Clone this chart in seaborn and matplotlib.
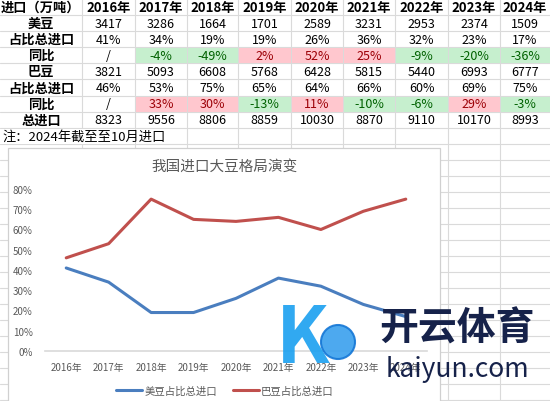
import matplotlib
matplotlib.use("Agg")
import matplotlib.pyplot as plt
import seaborn as sns
import pandas as pd
from matplotlib.patches import Rectangle, Circle

# ---------------- data ----------------
years = ["2016年", "2017年", "2018年", "2019年", "2020年", "2021年", "2022年", "2023年", "2024年"]
us_vol = [3417, 3286, 1664, 1701, 2589, 3231, 2953, 2374, 1509]
us_share = [41, 34, 19, 19, 26, 36, 32, 23, 17]
us_yoy = ["/", "-4%", "-49%", "2%", "52%", "25%", "-9%", "-20%", "-36%"]
br_vol = [3821, 5093, 6608, 5768, 6428, 5815, 5440, 6993, 6777]
br_share = [46, 53, 75, 65, 64, 66, 60, 69, 75]
br_yoy = ["/", "33%", "30%", "-13%", "11%", "-10%", "-6%", "29%", "-3%"]
total = [8323, 9556, 8806, 8859, 10030, 8870, 9110, 10170, 8993]
row_labels = ["美豆", "占比总进口", "同比", "巴豆", "占比总进口", "同比", "总进口"]
header_label = "进口（万吨）"
note = "注：2024年截至至10月进口"
chart_title = "我国进口大豆格局演变"
series_names = ["美豆占比总进口", "巴豆占比总进口"]
y_ticks = [0, 10, 20, 30, 40, 50, 60, 70, 80]

sns.set_theme(style="white")
plt.rcParams["font.family"] = ["Noto Sans CJK SC", "DejaVu Sans"]

W, H = 550, 402
fig = plt.figure(figsize=(5.5, 4.02), dpi=100)
bg = fig.add_axes([0, 0, 1, 1])
bg.set_xlim(0, W)
bg.set_ylim(H, 0)
bg.axis("off")

grid_c = "#dadada"
col_x = [0, 82, 135, 187, 238, 291, 343, 395, 448, 500, 550]
row_y = [0, 16, 32, 48, 64, 80, 97, 113, 129, 145]

# spreadsheet grid lines (whole page)
for y in range(16, 410, 16):
    bg.plot([0, W], [y + (1 if y > 90 else 0)] * 2, color=grid_c, lw=0.8, zorder=0)
for x in col_x[1:-1]:
    bg.plot([x, x], [0, H], color=grid_c, lw=0.8, zorder=0)

green_fill, green_txt = "#c6efce", "#006100"
red_fill, red_txt = "#ffc7ce", "#9c0006"

# header row
bg.text(1, 8, header_label, ha="left", va="center", fontsize=9.5, fontweight="bold", color="black")
for i, yr in enumerate(years):
    cx = (col_x[i + 1] + col_x[i + 2]) / 2
    bg.text(cx, 8, yr, ha="center", va="center", fontsize=9.5, fontweight="bold", color="black")

rows = [
    [str(v) for v in us_vol],
    [f"{v}%" for v in us_share],
    us_yoy,
    [str(v) for v in br_vol],
    [f"{v}%" for v in br_share],
    br_yoy,
    [str(v) for v in total],
]
for r, (lab, vals) in enumerate(zip(row_labels, rows)):
    y0, y1 = row_y[r + 1], row_y[r + 2]
    cy = (y0 + y1) / 2
    bg.text(41, cy, lab, ha="center", va="center", fontsize=9.5, fontweight="bold", color="black")
    for i, v in enumerate(vals):
        x0, x1 = col_x[i + 1], col_x[i + 2]
        color = "black"
        if r in (2, 5) and v != "/":
            fill, color = (green_fill, green_txt) if v.startswith("-") else (red_fill, red_txt)
            bg.add_patch(Rectangle((x0 + 0.5, y0 + 0.5), x1 - x0 - 1, y1 - y0 - 1,
                                   facecolor=fill, edgecolor="none", zorder=1))
        bg.text((x0 + x1) / 2, cy, v, ha="center", va="center", fontsize=9, color=color, zorder=2)

bg.add_patch(Rectangle((0, 129.5), 135, 15, facecolor="white", edgecolor="none", zorder=1))
bg.text(2, 137, note, ha="left", va="center", fontsize=9.5, color="black", zorder=2)

# chart box
bg.add_patch(Rectangle((8, 149), 432, 260, facecolor="white", edgecolor="#d0d0d0", lw=0.9, zorder=3))
bg.text(225, 167, chart_title, ha="center", va="center", fontsize=10.5, color="#595959", zorder=4)

# ---------------- chart ----------------
left, right = 45, 427
top, bottom = 190, 352
ax = fig.add_axes([left / W, (H - bottom) / H, (right - left) / W, (bottom - top) / H])
ax.set_facecolor("none")

df = pd.DataFrame({
    "x": list(range(len(years))) * 2,
    "share": [v / 100 for v in us_share] + [v / 100 for v in br_share],
    "series": [series_names[0]] * len(years) + [series_names[1]] * len(years),
})
sns.lineplot(data=df, x="x", y="share", hue="series", palette=["#4a7ebf", "#c0504d"],
             linewidth=2.2, ax=ax, legend=True)

ax.set_xlim(-0.5, len(years) - 0.5)
ax.set_ylim(0, 0.8)
ax.set_yticks([t / 100 for t in y_ticks])
ax.set_yticklabels([f"{t}%" for t in y_ticks])
ax.set_xticks(range(len(years)))
ax.set_xticklabels(years)
ax.tick_params(axis="both", labelsize=7, colors="#595959", length=0)
ax.tick_params(axis="x", pad=8)
ax.tick_params(axis="y", pad=9)
for s in ["top", "right", "left"]:
    ax.spines[s].set_visible(False)
ax.spines["bottom"].set_color("#d9d9d9")
ax.spines["bottom"].set_linewidth(1.2)
ax.set_xlabel("")
ax.set_ylabel("")

leg = ax.legend(loc="center", bbox_to_anchor=(225 / W, (H - 392) / H),
                bbox_transform=fig.transFigure, ncol=2, frameon=False,
                fontsize=7.5, handlelength=2.5, columnspacing=1.5, handletextpad=0.2)
for t in leg.get_texts():
    t.set_color("#595959")

# ---------------- watermark ----------------
wm = fig.add_axes([0, 0, 1, 1])
wm.set_xlim(0, W)
wm.set_ylim(H, 0)
wm.axis("off")
wm.text(303, 340, "K", ha="center", va="center", fontsize=56, fontstyle="italic",
        fontweight="bold", color="#1aa0f0", alpha=0.9)
wm.add_patch(Circle((338, 343), 17, facecolor="#3aa0ee", edgecolor="#1577d6", lw=1.5, alpha=0.9))
wm.text(457, 329, "开云体育", ha="center", va="center", fontsize=28, fontweight="bold", color="#16224a")
wm.text(457, 370, "kaiyun.com", ha="center", va="center", fontsize=19, color="#16224a")

fig.savefig("out.png", dpi=100)
